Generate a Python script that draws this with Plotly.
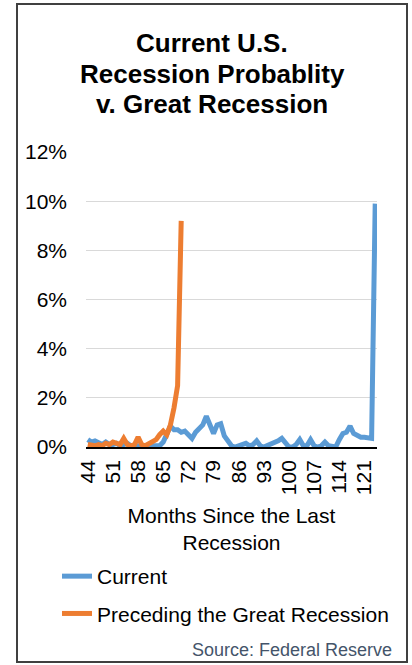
import plotly.graph_objects as go

# ---- data (percent) ----
months_current = list(range(44, 125))
current = [0.30, 0.20, 0.25, 0.15, 0.10, 0.20, 0.10, 0.10, 0.15, 0.05,
           0.10, 0.15, 0.05, 0.05, 0.05, 0.00, 0.00, 0.00, 0.00, 0.00,
           0.05, 0.20, 0.50, 0.85, 0.70, 0.70, 0.60, 0.65, 0.50, 0.35,
           0.60, 0.75, 0.90, 1.25, 0.90, 0.55, 0.90, 0.95, 0.45, 0.20,
           0.05, 0.00, 0.05, 0.15, 0.15, 0.05, 0.10, 0.25, 0.05, 0.00,
           0.05, 0.10, 0.15, 0.25, 0.35, 0.15, 0.00, 0.00, 0.10, 0.30,
           0.05, 0.05, 0.30, 0.05, 0.00, 0.05, 0.20, 0.05, 0.00, 0.00,
           0.30, 0.55, 0.60, 0.85, 0.55, 0.45, 0.40, 0.40, 0.35, 0.35, 9.90]

months_great = list(range(44, 71))
great = [0.10, 0.05, 0.05, 0.10, 0.05, 0.15, 0.10, 0.20, 0.15, 0.10,
         0.35, 0.10, 0.05, 0.10, 0.40, 0.10, 0.05, 0.15, 0.20, 0.30,
         0.50, 0.65, 0.50, 0.90, 1.60, 2.50, 9.20]

x_ticks = list(range(44, 122, 7))
y_ticks = [0, 2, 4, 6, 8, 10, 12]

title_lines = ["Current U.S.", "Recession Probablity", "v. Great Recession"]

FONT = "Liberation Sans, Arial, sans-serif"

fig = go.Figure()
fig.add_trace(go.Scatter(x=months_current, y=current, mode="lines", name="Current",
                         legendgroup="a",
                         line=dict(color="#5B9BD5", width=5)))
fig.add_trace(go.Scatter(x=months_great, y=great, mode="lines",
                         name="Preceding the Great Recession", legendgroup="b",
                         line=dict(color="#ED7D31", width=5)))

W, H = 412, 665
L, R, T, B = 86, 35, 152, 218
pw, ph = W - L - R, H - T - B

def px(x):
    return (x - L) / pw

def py(y):
    return (H - B - y) / ph

fig.update_layout(
    width=W, height=H,
    margin=dict(l=L, r=R, t=T, b=B),
    paper_bgcolor="white", plot_bgcolor="white",
    font=dict(family=FONT, size=21, color="#000000"),
    showlegend=True,
    legend=dict(x=px(57), y=py(556), xanchor="left", yanchor="top",
                font=dict(size=21), traceorder="grouped", tracegroupgap=7,
                bgcolor="rgba(0,0,0,0)"),
    xaxis=dict(range=[43.5, 124.5], tickmode="array", tickvals=x_ticks,
               ticktext=[str(v) for v in x_ticks], tickangle=-90,
               showgrid=False, zeroline=False, showline=True,
               linecolor="#000000", linewidth=1.5, ticks="",
               ticklabelstandoff=3,
               title=dict(text="Months Since the Last<br>Recession",
                          font=dict(size=21), standoff=14)),
    yaxis=dict(range=[0, 12], tickmode="array", tickvals=y_ticks,
               ticktext=[f"{v}%" for v in y_ticks],
               showgrid=True, gridcolor="#D9D9D9", gridwidth=1,
               zeroline=False, showline=False, ticks="",
               ticklabelstandoff=18),
)

# title lines
for txt, yy in zip(title_lines, [43, 74, 104]):
    fig.add_annotation(text=f"<b>{txt}</b>", xref="paper", yref="paper",
                       x=px(212), y=py(yy), xanchor="center", yanchor="middle",
                       showarrow=False, font=dict(size=26, color="#000000"))

# source
fig.add_annotation(text="Source: Federal Reserve", xref="paper", yref="paper",
                   x=px(394), y=py(650), xanchor="right", yanchor="middle",
                   showarrow=False, font=dict(size=18, color="#44546A"))

# chart border
fig.add_shape(type="rect", xref="paper", yref="paper",
              x0=px(17), x1=px(407), y0=py(662), y1=py(4),
              line=dict(color="#404040", width=2), fillcolor="rgba(0,0,0,0)",
              layer="below")

fig.write_html("out.html", config={"displayModeBar": False},
               post_script="document.body.style.margin='0';document.body.style.overflow='hidden';")
